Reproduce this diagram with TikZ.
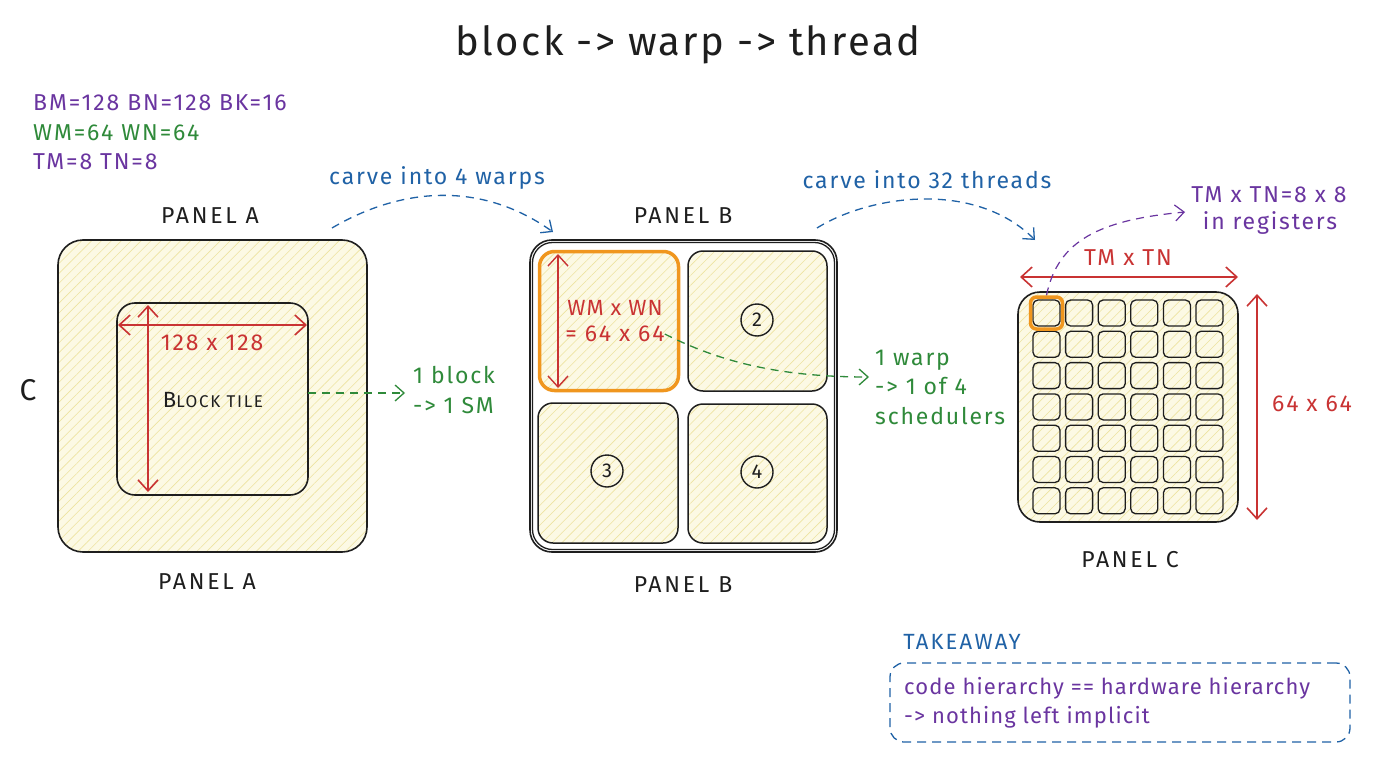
\documentclass[tikz,border=0pt]{standalone}
\usepackage{fontspec}
\setmainfont{Fira Sans}
\usetikzlibrary{arrows.meta,patterns.meta}
\definecolor{ink}{HTML}{1E1E1E}
\definecolor{cpurple}{HTML}{6A35A0}
\definecolor{cgreen}{HTML}{2F8A3A}
\definecolor{cblue}{HTML}{2062A6}
\definecolor{cred}{HTML}{C93333}
\definecolor{corange}{HTML}{F0961E}
\definecolor{hatchbg}{HTML}{FCF9E4}
\definecolor{hatchln}{HTML}{EDE3A0}
\tikzset{
  hbox/.style={draw=ink, line width=1.6pt, inner sep=0pt,
    pattern={Lines[angle=45,distance=7pt,line width=0.6pt]}, pattern color=hatchln,
    preaction={fill=hatchbg}},
  obox/.style={draw=ink, line width=1.6pt, inner sep=0pt},
  dimarrow/.style={draw=cred, line width=1.6pt,
    {Straight Barb[length=11pt,width=20pt]}-{Straight Barb[length=11pt,width=20pt]}},
  dsh/.style={line width=1.3pt, dash pattern=on 8pt off 6pt,
    -{Straight Barb[length=9pt,width=16pt]}},
  lab/.style={font=\fontsize{23}{29.5}\selectfont\addfontfeatures{LetterSpace=8}, inner sep=0pt},
  labn/.style={font=\fontsize{22}{29}\selectfont\addfontfeatures{LetterSpace=5}, inner sep=0pt},
  plabel/.style={font=\fontsize{23}{27}\selectfont\addfontfeatures{LetterSpace=12}, inner sep=0pt, text=ink},
  num/.style={circle, draw=ink, line width=1.4pt, minimum size=32pt, inner sep=0pt,
    font=\fontsize{20}{24}\selectfont, text=ink},
  cell/.style={hbox, line width=1.3pt, minimum width=27pt, minimum height=26pt, rounded corners=5pt}
}
\begin{document}
\begin{tikzpicture}[x=1pt,y=-1pt]
\useasboundingbox[fill=white] (0,0) rectangle (1376,768);

% title and parameters
\node[font=\fontsize{40}{44}\selectfont\addfontfeatures{LetterSpace=6}, text=ink, inner sep=0pt] (title) at (688,45) {block -> warp -> thread};
\node[lab, text=cpurple, anchor=west] (p1) at (33,103) {BM=128 BN=128 BK=16};
\node[lab, text=cgreen, anchor=west] (p2) at (33,133) {WM=64 WN=64};
\node[lab, text=cpurple, anchor=west] (p3) at (33,162) {TM=8 TN=8};

% ---------------- Panel A
\node[plabel] (tA) at (210,216) {PANEL A};
\node[plabel] (bA) at (207,582) {PANEL A};
\node[font=\fontsize{30}{34}\selectfont, text=ink, inner sep=0pt] (cC) at (28,390) {C};
\node[hbox, minimum width=309pt, minimum height=312pt, rounded corners=25pt] (A) at (212.5,396) {};
\node[hbox, minimum width=191pt, minimum height=192pt, rounded corners=18pt] (Ain) at (212.5,399) {};
\coordinate (ah1) at (118,325);
\coordinate (ah2) at (307,325);
\coordinate (av1) at (148,305);
\coordinate (av2) at (148,492);
\draw[dimarrow] (ah1) -- (ah2);
\draw[dimarrow] (av1) -- (av2);
\node[lab, text=cred] (dA) at (212,343) {128 x 128};
\node[inner sep=0pt, text=ink, font=\addfontfeatures{LetterSpace=10}] (bt) at (213,400) {{\fontsize{22}{24}\selectfont B}{\fontsize{17}{24}\selectfont LOCK TILE}};

\node[lab, text=cgreen, anchor=west, align=left] (blk) at (413,390) {1 block\\-> 1 SM};
\coordinate (gA) at (308,393);
\coordinate (gAe) at (405,393);
\draw[dsh, draw=cgreen] (gA) -- (gAe);

% ---------------- Panel B
\node[plabel] (tB) at (683,216) {PANEL B};
\node[plabel] (bB) at (683,585) {PANEL B};
\node[obox, minimum width=307pt, minimum height=312pt, rounded corners=22pt] (B) at (683.5,396) {};
\node[obox, line width=1.3pt, minimum width=302pt, minimum height=307pt, rounded corners=20pt] (B2) at (683.5,396) {};
\node[hbox, line width=1.5pt, minimum width=139pt, minimum height=140pt, rounded corners=15pt] (w2) at (757.5,321) {};
\node[hbox, line width=1.5pt, minimum width=140pt, minimum height=140pt, rounded corners=15pt] (w3) at (608,473) {};
\node[hbox, line width=1.5pt, minimum width=139pt, minimum height=139pt, rounded corners=15pt] (w4) at (757.5,473.5) {};
\node[hbox, draw=corange, line width=3.5pt, minimum width=139pt, minimum height=139pt, rounded corners=15pt] (w1) at (609,321) {};
\node[num] (n2) at (757,320) {2};
\node[num] (n3) at (607,471) {3};
\node[num] (n4) at (757,472) {4};
\coordinate (bv1) at (558,254);
\coordinate (bv2) at (558,388);
\draw[dimarrow, line width=1.4pt] (bv1) -- (bv2);
\node[labn, text=cred] (wmn) at (615,308) {WM x WN};
\node[lab, text=cred] (wmn2) at (615,334) {= 64 x 64};
\node[lab, text=cgreen, anchor=west, align=left] (wrp) at (875,387) {1 warp\\-> 1 of 4\\schedulers};
\coordinate (gBe) at (869,377);
\draw[dsh, draw=cgreen] (wmn2.east) .. controls (720,362) and (780,377) .. (gBe);

% blue carve arrows
\node[lab, text=cblue] (cv1) at (437,178) {carve into 4 warps};
\node[lab, text=cblue] (cv2) at (927,180) {carve into 32 threads};
\coordinate (b1s) at (332,228);
\coordinate (b1e) at (553,232);
\coordinate (b2s) at (817,228);
\coordinate (b2e) at (1035,240);
\draw[dsh, draw=cblue] (b1s) .. controls (400,188) and (480,180) .. (b1e);
\draw[dsh, draw=cblue] (b2s) .. controls (870,195) and (975,180) .. (b2e);

% ---------------- Panel C
\node[plabel] (tC) at (1130,560) {PANEL C};
\node[hbox, minimum width=220pt, minimum height=230pt, rounded corners=22pt] (C) at (1128,407) {};
\foreach \i in {0,...,5}{
  \foreach \j in {0,...,6}{
    \node[cell] (t\i\j) at ({1046.5+32.6*\i},{313+31.3*\j}) {};
  }
}
\node[draw=corange, line width=3.5pt, minimum width=32pt, minimum height=32pt, rounded corners=6pt, inner sep=0pt] (hl) at (t00) {};
\coordinate (ch1) at (1020,277);
\coordinate (ch2) at (1238,277);
\coordinate (cv1p) at (1257,294);
\coordinate (cv2p) at (1257,520);
\draw[dimarrow] (ch1) -- (ch2);
\draw[dimarrow] (cv1p) -- (cv2p);
\node[lab, text=cred] (tmtn) at (1128,258) {TM x TN};
\node[lab, text=cred] (d64) at (1312,404) {64 x 64};
\node[lab, text=cpurple] (reg1) at (1269,195) {TM x TN=8 x 8};
\node[lab, text=cpurple] (reg2) at (1270,223) {in registers};
\coordinate (pe) at (1185,212);
\draw[dsh, draw=cpurple, line width=1.2pt] (hl.north) .. controls (1058,240) and (1100,220) .. (pe);

% ---------------- Takeaway
\node[lab, text=cblue, font=\fontsize{22}{25}\selectfont\addfontfeatures{LetterSpace=10}] (tk) at (962,642) {TAKEAWAY};
\node[draw=cblue, line width=1.3pt, dash pattern=on 9pt off 6pt, rounded corners=14pt,
  minimum width=460pt, minimum height=79pt, inner sep=0pt] (tbox) at (1120,702.5) {};
\node[labn, text=cpurple, anchor=west, align=left] (tt) at (904,703) {code hierarchy == hardware hierarchy\\-> nothing left implicit};
\end{tikzpicture}
\end{document}
